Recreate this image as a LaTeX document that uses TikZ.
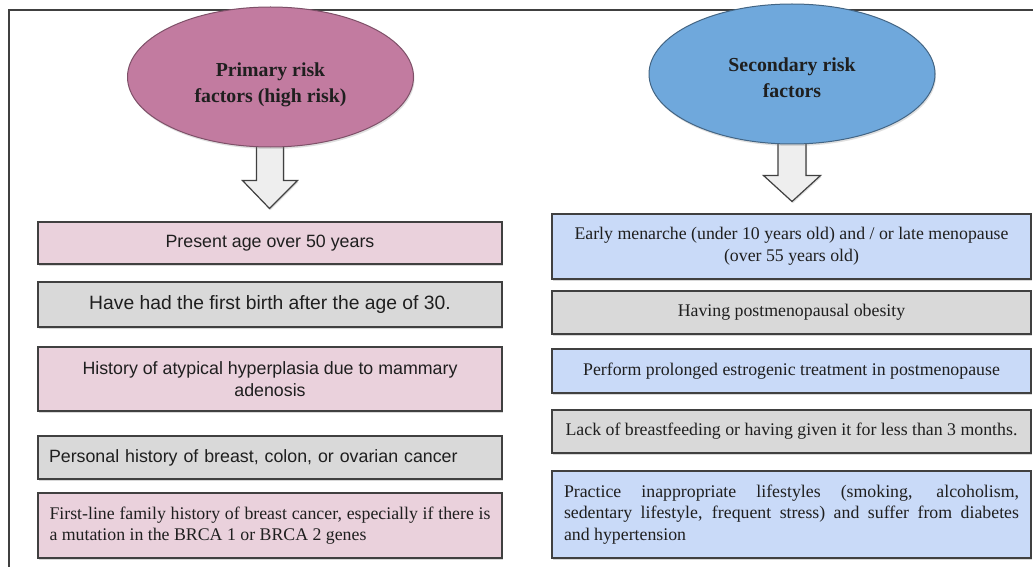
\documentclass[tikz,border=0pt]{standalone}
\usepackage{fontspec}
\setmainfont{Liberation Serif}
\newfontfamily\arialf{Liberation Sans}
\usetikzlibrary{shapes.geometric,shadows,calc}
\pgfdeclarelayer{background}
\pgfsetlayers{background,main}
\definecolor{pinkfill}{HTML}{EAD1DC}
\definecolor{grayfill}{HTML}{D9D9D9}
\definecolor{bluefill}{HTML}{C9DAF8}
\definecolor{magell}{HTML}{C27BA0}
\definecolor{blueell}{HTML}{6FA8DC}
\definecolor{edgec}{HTML}{404040}
\definecolor{txt}{HTML}{1F1F1F}
\definecolor{arrowfill}{HTML}{EEEEEE}
\tikzset{
  riskbox/.style={draw=edgec, line width=1.3pt, inner sep=0pt, text=txt,
    drop shadow={shadow xshift=1.2pt, shadow yshift=-1.8pt, opacity=0.3}},
  leftbox/.style={riskbox, minimum width=464pt},
  rightbox/.style={riskbox, minimum width=479pt},
  ell/.style={ellipse, minimum width=286pt, minimum height=140pt, inner sep=0pt,
    line width=1pt, text=txt,
    font=\fontsize{19.8}{26}\selectfont\bfseries,
    drop shadow={shadow xshift=1pt, shadow yshift=-2pt, opacity=0.25}},
  blockarrow/.style={draw=edgec, line width=1.2pt, fill=arrowfill, line join=miter,
    drop shadow={shadow xshift=1pt, shadow yshift=-1.5pt, opacity=0.25}},
  sans/.style={font=\arialf\fontsize{17.8}{22}\selectfont},
  serif/.style={font=\fontsize{17.8}{21.7}\selectfont},
}
\newcommand{\elltext}[2]{\raisebox{#1}[0pt][0pt]{\begin{tabular}{@{}c@{}}#2\end{tabular}}}
\begin{document}
\begin{tikzpicture}[x=1pt,y=1pt]
\useasboundingbox (0,0) rectangle (1033,-567);
\begin{pgfonlayer}{background}
\fill[white] (0,0) rectangle (1033,-567);
\end{pgfonlayer}
\draw[edgec, line width=1.2pt] (9,-567) -- (9,-10) -- (1033,-10);

% ellipses
\node[ell, fill=magell, draw=magell!65!black] (pe) at (270.5,-77) {\elltext{-12.4pt}{Primary risk\\factors (high risk)}};
\node[ell, fill=blueell, draw=blueell!60!black] (se) at (792,-74) {\elltext{-10.4pt}{Secondary risk\\factors}};

% left boxes
\node[leftbox, fill=pinkfill, minimum height=42pt, sans] (l1) at (270,-243) {Present age over 50 years};
\node[leftbox, fill=grayfill, minimum height=45pt, font=\arialf\fontsize{19.3}{23}\selectfont] (l2) at (270,-304.5) {Have had the first birth after the age of 30.};
\node[leftbox, fill=pinkfill, minimum height=64pt, sans, align=center] (l3) at (270,-379) {History of atypical hyperplasia due to mammary\\adenosis};
\node[leftbox, fill=grayfill, minimum height=43pt, sans, text width=442pt, align=left] (l4) at (270,-457.5) {Personal history of breast, colon, or ovarian cancer};
\node[leftbox, fill=pinkfill, minimum height=65pt, serif, text width=441pt, align=justify] (l5) at (270,-525.5) {First-line family history of breast cancer, especially if there is\linebreak a mutation in the BRCA 1 or BRCA 2 genes};

% right boxes
\node[rightbox, fill=bluefill, minimum height=65pt, serif, align=center] (r1) at (791.5,-246.5) {Early menarche (under 10 years old) and / or late menopause\\(over 55 years old)};
\node[rightbox, fill=grayfill, minimum height=43pt, serif] (r2) at (791.5,-312.5) {Having postmenopausal obesity};
\node[rightbox, fill=bluefill, minimum height=44pt, serif] (r3) at (791.5,-371) {Perform prolonged estrogenic treatment in postmenopause};
\node[rightbox, fill=grayfill, minimum height=43pt, serif] (r4) at (791.5,-431.5) {Lack of breastfeeding or having given it for less than 3 months.};
\node[rightbox, fill=bluefill, minimum height=87pt, serif, text width=455pt, align=justify] (r5) at (791.5,-514.5) {Practice inappropriate lifestyles (smoking, alcoholism,\linebreak sedentary lifestyle, frequent stress) and suffer from diabetes\linebreak and hypertension};

% block arrows
\begin{pgfonlayer}{background}
\draw[blockarrow] ($(pe.south)+(-14,4)$) -- ($(pe.south)+(-14,-33)$) -- ($(pe.south)+(-28,-33)$) -- ($(pe.south)+(-1,-61)$) -- ($(pe.south)+(27,-33)$) -- ($(pe.south)+(13,-33)$) -- ($(pe.south)+(13,4)$);
\draw[blockarrow] ($(se.south)+(-14,4)$) -- ($(se.south)+(-14,-31)$) -- ($(se.south)+(-28.5,-31)$) -- ($(se.south)+(0,-57)$) -- ($(se.south)+(28.5,-31)$) -- ($(se.south)+(14,-31)$) -- ($(se.south)+(14,4)$);
\end{pgfonlayer}
\end{tikzpicture}
\end{document}
